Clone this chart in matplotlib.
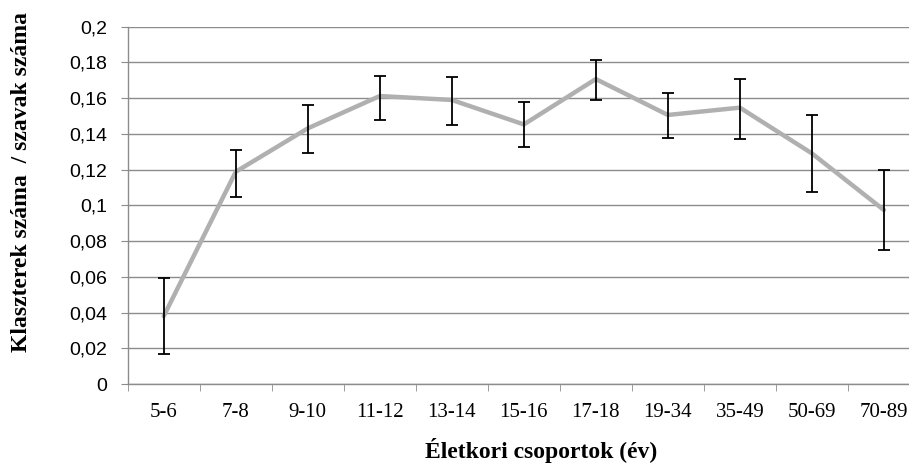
import matplotlib.pyplot as plt
from matplotlib.ticker import FuncFormatter, MultipleLocator
import numpy as np

# age groups and cluster ratio (mean with lower / upper error bar ends)
groups = ["5-6", "7-8", "9-10", "11-12", "13-14", "15-16", "17-18",
          "19-34", "35-49", "50-69", "70-89"]
means = [0.038, 0.1188, 0.1431, 0.1612, 0.159, 0.1453, 0.1707,
         0.1506, 0.1547, 0.1291, 0.0974]
err_top = [0.0592, 0.131, 0.156, 0.1726, 0.1718, 0.1577, 0.1812,
           0.1627, 0.1707, 0.1504, 0.1196]
err_bottom = [0.0166, 0.1049, 0.1295, 0.148, 0.145, 0.1327, 0.1588,
              0.1377, 0.1373, 0.1073, 0.075]

fig = plt.figure(figsize=(9.09, 4.63), dpi=100)
ax = fig.add_axes([0.1405, 0.1706, 0.8715, 0.7717])

x = np.arange(len(groups))
means_a = np.array(means)
yerr = [means_a - np.array(err_bottom), np.array(err_top) - means_a]

ax.plot(x, means, color="#b0b0b0", linewidth=3.2, solid_capstyle="round", zorder=3)
ax.errorbar(x, means, yerr=yerr, fmt="none", ecolor="black", elinewidth=1.3,
            capsize=4.5, capthick=1.3, zorder=4)

ax.set_xlim(-0.5, len(groups) - 0.5)
ax.set_ylim(0, 0.2)
ax.yaxis.set_major_locator(MultipleLocator(0.02))
ax.yaxis.set_major_formatter(FuncFormatter(lambda v, p: f"{v:.2f}".rstrip("0").rstrip(".").replace(".", ",") if v else "0"))
ax.grid(axis="y", color="#8c8c8c", linewidth=1.0)
ax.set_axisbelow(True)

ax.set_xticks(x)
ax.set_xticklabels(groups, fontfamily="Liberation Serif", fontsize=15)
ax.set_xticks(np.arange(-0.5, len(groups)), minor=True)
ax.tick_params(axis="x", which="major", length=0, pad=14)
ax.tick_params(axis="x", which="minor", length=5, color="#8c8c8c", direction="out")
ax.tick_params(axis="y", length=5, color="#8c8c8c", pad=10)
for lab in ax.get_yticklabels():
    lab.set_fontfamily("Liberation Sans")
    lab.set_fontsize(14)

for side in ["top", "right"]:
    ax.spines[side].set_visible(False)
for side in ["left", "bottom"]:
    ax.spines[side].set_color("#8c8c8c")
    ax.spines[side].set_linewidth(1.0)

fig.text(0.595, 0.026, "Életkori csoportok (év)", ha="center", va="center",
         fontfamily="Liberation Serif", fontweight="bold", fontsize=17)
fig.text(0.024, 0.607, "Klaszterek száma  / szavak száma", ha="center", va="center",
         rotation=90, fontfamily="Liberation Serif", fontweight="bold", fontsize=17)

fig.savefig("out.png", dpi=100)
